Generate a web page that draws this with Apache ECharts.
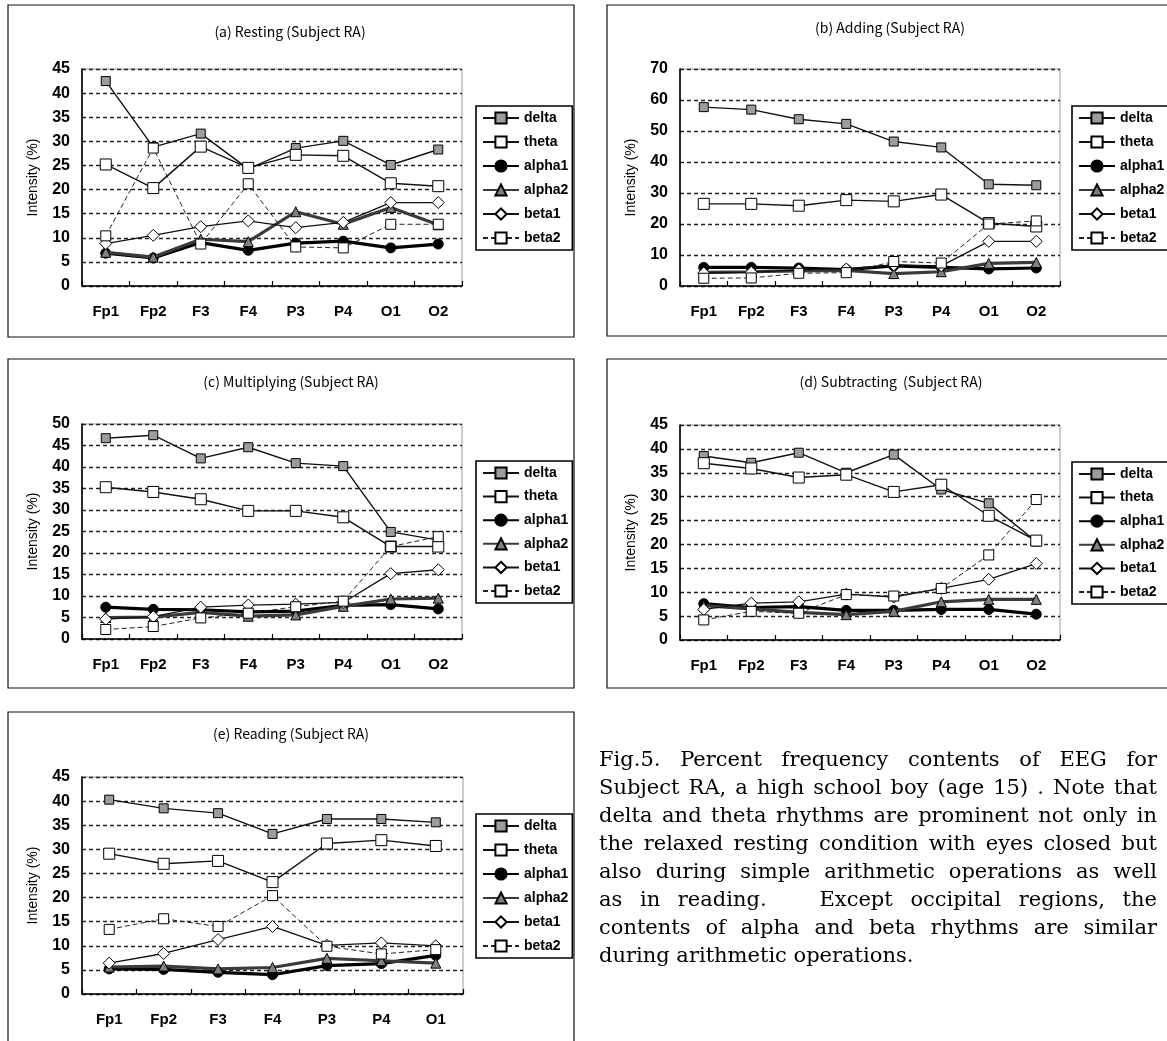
<!DOCTYPE html>
<html><head><meta charset="utf-8">
<script src="https://cdn.jsdelivr.net/npm/echarts@6/dist/echarts.min.js"></script>
<style>
html,body{margin:0;padding:0;background:#fff;}
#chart{position:absolute;left:0;top:0;width:1167px;height:1041px;}
#caption{position:absolute;left:599px;top:745px;width:558px;font-family:'DejaVu Serif',serif;font-size:21px;line-height:28px;color:#000;}
#caption div{text-align:justify;text-align-last:justify;white-space:nowrap;}
#caption div.last{text-align-last:left;}
</style></head><body>
<div id="chart"></div>
<div id="caption">
<div>Fig.5. Percent frequency contents of EEG for</div>
<div>Subject RA, a high school boy (age 15) . Note that</div>
<div>delta and theta rhythms are prominent not only in</div>
<div>the relaxed resting condition with eyes closed but</div>
<div>also during simple arithmetic operations as well</div>
<div>as in reading. &nbsp; Except occipital regions, the</div>
<div>contents of alpha and beta rhythms are similar</div>
<div class="last">during arithmetic operations.</div>
</div>
<script>
// ---------- data ----------
const electrodes8 = ['Fp1','Fp2','F3','F4','P3','P4','O1','O2'];
const electrodes7 = ['Fp1','Fp2','F3','F4','P3','P4','O1'];
const rhythms = ['delta','theta','alpha1','alpha2','beta1','beta2'];
const panelTitles = ['(a) Resting (Subject RA)','(b) Adding (Subject RA)','(c) Multiplying (Subject RA)','(d) Subtracting  (Subject RA)','(e) Reading (Subject RA)'];
const yAxisMax = [45, 70, 50, 45, 45];
const yAxisStep = [5, 10, 5, 5, 5];
const yAxisName = 'Intensity (%)';

// (a) Resting
const restDelta  = [42.5, 28.8, 31.6, 24.3, 28.6, 30.1, 25.1, 28.3];
const restTheta  = [25.2, 20.3, 28.9, 24.5, 27.2, 27.0, 21.3, 20.7];
const restAlpha1 = [6.8, 5.8, 9.0, 7.4, 8.9, 9.3, 7.9, 8.7];
const restAlpha2 = [7.0, 6.0, 9.7, 9.2, 15.4, 12.8, 16.3, 12.7];
const restBeta1  = [8.8, 10.5, 12.3, 13.5, 12.1, 13.2, 17.3, 17.3];
const restBeta2  = [10.4, 28.6, 8.7, 21.2, 8.1, 7.9, 12.8, 12.8];
// (b) Adding
const addDelta  = [57.7, 56.9, 53.8, 52.3, 46.6, 44.7, 32.8, 32.5];
const addTheta  = [26.5, 26.5, 25.9, 27.7, 27.3, 29.5, 20.3, 19.2];
const addAlpha1 = [6.0, 6.0, 5.8, 5.3, 6.5, 6.0, 5.5, 5.8];
const addAlpha2 = [4.4, 4.6, 4.9, 5.0, 4.0, 4.6, 7.3, 7.6];
const addBeta1  = [4.2, 4.4, 5.2, 5.5, 6.8, 6.5, 14.4, 14.4];
const addBeta2  = [2.5, 2.6, 4.1, 4.3, 7.9, 7.4, 20.0, 21.0];
// (c) Multiplying
const mulDelta  = [46.7, 47.4, 42.0, 44.6, 40.9, 40.2, 24.9, 23.0];
const mulTheta  = [35.3, 34.2, 32.5, 29.8, 29.8, 28.3, 21.5, 21.5];
const mulAlpha1 = [7.4, 6.9, 6.8, 6.3, 6.5, 7.8, 8.0, 7.0];
const mulAlpha2 = [5.0, 5.1, 6.2, 5.3, 5.6, 7.6, 9.3, 9.5];
const mulBeta1  = [4.6, 5.2, 7.4, 7.9, 8.1, 8.5, 15.2, 16.1];
const mulBeta2  = [2.2, 2.9, 4.9, 6.0, 7.5, 8.8, 21.5, 23.8];
// (d) Subtracting
const subDelta  = [38.5, 37.1, 39.2, 35.0, 38.8, 31.5, 28.6, 20.6];
const subTheta  = [37.0, 35.9, 34.0, 34.6, 31.0, 32.5, 26.0, 20.8];
const subAlpha1 = [7.6, 6.8, 7.0, 6.2, 6.2, 6.4, 6.4, 5.4];
const subAlpha2 = [7.2, 6.5, 5.8, 5.3, 6.0, 8.0, 8.5, 8.5];
const subBeta1  = [6.4, 7.7, 8.0, 9.6, 9.0, 10.8, 12.7, 16.0];
const subBeta2  = [4.2, 6.0, 5.6, 9.5, 9.2, 10.8, 17.8, 29.4];
// (e) Reading
const readDelta  = [40.3, 38.5, 37.5, 33.2, 36.3, 36.3, 35.6];
const readTheta  = [29.1, 27.0, 27.6, 23.2, 31.2, 31.9, 30.7];
const readAlpha1 = [5.2, 5.1, 4.5, 4.0, 5.9, 6.3, 8.0];
const readAlpha2 = [5.6, 5.8, 5.2, 5.5, 7.4, 6.9, 6.4];
const readBeta1  = [6.4, 8.4, 11.3, 14.0, 10.1, 10.6, 10.0];
const readBeta2  = [13.4, 15.6, 14.0, 20.4, 9.9, 8.3, 9.2];

const panelCategories = [electrodes8, electrodes8, electrodes8, electrodes8, electrodes7];
const panelSeries = [
  [restDelta, restTheta, restAlpha1, restAlpha2, restBeta1, restBeta2],
  [addDelta, addTheta, addAlpha1, addAlpha2, addBeta1, addBeta2],
  [mulDelta, mulTheta, mulAlpha1, mulAlpha2, mulBeta1, mulBeta2],
  [subDelta, subTheta, subAlpha1, subAlpha2, subBeta1, subBeta2],
  [readDelta, readTheta, readAlpha1, readAlpha2, readBeta1, readBeta2]
];

// ---------- layout & style ----------
const layout = [
  {box:[8,5,566,332],   grid:[82,69,380,217],  title:[290,32],  legend:[476,106,10]},
  {box:[607,5,580,331], grid:[680,69,380,217], title:[890,28],  legend:[1072,106,10]},
  {box:[8,359,566,329], grid:[82,424,380,215], title:[291,382], legend:[476,461,9.6]},
  {box:[607,359,580,329],grid:[680,425,380,215],title:[891,382], legend:[1072,462,9.6]},
  {box:[8,712,566,340], grid:[82,777,381,217], title:[291,734], legend:[476,814,10]}
];
const rhythmStyle = {
  delta:  {symbol:'rect', size:9,  fill:'#9c9c9c', lw:1.4, lc:'#111', lt:'solid'},
  theta:  {symbol:'rect', size:11, fill:'#ffffff', lw:1.4, lc:'#111', lt:'solid'},
  alpha1: {symbol:'circle', size:10, fill:'#000000', lw:3.2, lc:'#000', lt:'solid'},
  alpha2: {symbol:'triangle', size:10, fill:'#808080', lw:3.2, lc:'#3a3a3a', lt:'solid'},
  beta1:  {symbol:'diamond', size:12, fill:'#ffffff', lw:1.3, lc:'#111', lt:'solid'},
  beta2:  {symbol:'rect', size:10, fill:'#ffffff', lw:1.0, lc:'#222', lt:[5,3]}
};
const labelFont = 'Liberation Sans';

const grids = [], xAxes = [], yAxes = [], series = [], legends = [], graphics = [];
layout.forEach((L, i) => {
  grids.push({left:L.grid[0], top:L.grid[1], width:L.grid[2], height:L.grid[3],
    show:true, borderColor:'#9a9a9a', borderWidth:1, backgroundColor:'transparent'});
  xAxes.push({type:'category', gridIndex:i, data:panelCategories[i], boundaryGap:true,
    axisLine:{show:true, lineStyle:{color:'#000', width:1.6}},
    axisTick:{show:true, inside:true, length:5, lineStyle:{color:'#000', width:1.2}},
    axisLabel:{color:'#000', fontSize:15, fontWeight:'bold', fontFamily:labelFont, margin:18},
    splitLine:{show:false}});
  yAxes.push({type:'value', gridIndex:i, min:0, max:yAxisMax[i], interval:yAxisStep[i],
    name:yAxisName, nameLocation:'middle', nameGap:42, nameRotate:90,
    nameTextStyle:{color:'#000', fontSize:14, fontFamily:labelFont},
    axisLine:{show:true, lineStyle:{color:'#000', width:1.6}},
    axisTick:{show:false},
    axisLabel:{color:'#000', fontSize:16, fontWeight:'bold', fontFamily:labelFont, margin:12},
    splitLine:{show:true, lineStyle:{color:'#222', width:1.3, type:[4,3]}}});
  rhythms.forEach((r, k) => {
    const s = rhythmStyle[r];
    series.push({type:'line', name:r, xAxisIndex:i, yAxisIndex:i, data:panelSeries[i][k],
      symbol:s.symbol, symbolSize:s.size, showAllSymbol:true, animation:false,
      lineStyle:{color:s.lc, width:s.lw, type:s.lt},
      itemStyle:{color:s.fill, borderColor:'#000', borderWidth:1},
      emphasis:{disabled:true}, z: 2 + k});
  });
  legends.push({orient:'vertical', left:L.legend[0], top:L.legend[1], padding:[5,4,5,6],
    itemGap:L.legend[2], itemWidth:36, itemHeight:14, data:rhythms, selectedMode:false,
    borderColor:'#000', borderWidth:1.6, backgroundColor:'#fff', borderRadius:0,
    textStyle:{color:'#000', fontSize:14, fontWeight:'bold', fontFamily:labelFont}});
  graphics.push({type:'rect', silent:true, z:-10,
    shape:{x:L.box[0], y:L.box[1], width:L.box[2], height:L.box[3]},
    style:{fill:'none', stroke:'#111', lineWidth:1.2}});
  graphics.push({type:'text', silent:true, x:L.title[0], y:L.title[1],
    style:{text:panelTitles[i], align:'center', verticalAlign:'middle', textAlign:'center', textVerticalAlign:'middle',
      font:'14px "Noto Sans CJK JP", sans-serif', fill:'#000'}});
});

const chart = echarts.init(document.getElementById('chart'), null, {renderer:'canvas'});
chart.setOption({
  animation:false,
  backgroundColor:'#fff',
  grid:grids, xAxis:xAxes, yAxis:yAxes, series:series, legend:legends,
  graphic:graphics
});
</script>
</body></html>
